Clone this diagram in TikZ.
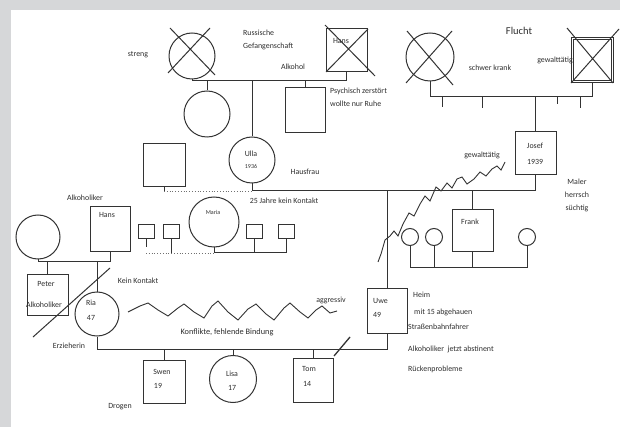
\documentclass[tikz,border=0pt]{standalone}
\usepackage{fontspec}
\setmainfont{Carlito}
\definecolor{lc}{HTML}{333333}
\definecolor{tc}{HTML}{2E2E2E}
\definecolor{bgc}{HTML}{D6D7D9}
\begin{document}
\begin{tikzpicture}[x=1pt,y=-1pt,
 ln/.style={draw=lc,line width=1pt},
 lnd/.style={draw=lc!70,line width=0.8pt,dotted},
 fem/.style={circle,draw=lc,line width=1pt,inner sep=0pt,minimum size=#1},
 male/.style n args={2}{rectangle,draw=lc,line width=1pt,inner sep=0pt,minimum width=#1,minimum height=#2},
 lbl/.style={font=\fontsize{7.9}{8}\selectfont,text=tc,inner sep=0pt},
 lblw/.style={lbl,anchor=west},
 big/.style={font=\fontsize{10.5}{11}\selectfont,text=tc,inner sep=0pt}]
\fill[bgc] (0,0) rectangle (620,427);
\fill[white] (11,10) rectangle (620,427);
\useasboundingbox (0,0) rectangle (620,427);

% ---------- top generation, left ----------
\node[fem=46pt] (ggm) at (192,56) {};
\draw[ln] (170,28) -- (215,75) (210,28) -- (168,73);
\node[male={41pt}{43pt}] (hansA) at (346.5,50.5) {};
\draw[ln] (325,25) -- (375,76) (368,29) -- (326,72);
\node[lbl] (tHansA) at (341,41) {Hans};
\node[lbl] (tstreng) at (138,55) {streng};
\node[lblw] (trus) at (243,33) {Russische};
\node[lblw] (tgef) at (243,46) {Gefangenschaft};
\node[lbl] (talk1) at (293,67) {Alkohol};
\coordinate (j1) at (192,81);
\draw[ln] (ggm.south) -- (j1) -| (hansA.south);

\node[fem=46pt] (d1) at (207,114) {};
\draw[ln] (d1.north) -- (d1.north |- j1);
\node[male={40pt}{45pt}] (psy) at (305,110.5) {};
\draw[ln] (psy.north) -- (psy.north |- j1);
\node[lblw] (tpsy1) at (330,91) {Psychisch zerstört};
\node[lblw] (tpsy2) at (330,104) {wollte nur Ruhe};

% ---------- top generation, right ----------
\node[fem=48pt] (fc) at (430,57) {};
\draw[ln] (407,31) -- (453,85) (452,31) -- (406,83);
\node[rectangle,draw=lc,line width=0.7pt,double,double distance=1.8pt,inner sep=0pt,minimum width=40pt,minimum height=43pt] (fs) at (592.5,60) {};
\draw[ln] (567,28) -- (613,83) (619,29) -- (571,83);
\node[big] (tflucht) at (519,31) {Flucht};
\node[lbl] (tkrank) at (490,68) {schwer krank};
\node[lbl] (tgew1) at (555,60) {gewalttätig};
\coordinate (j4) at (430,97);
\draw[ln] (fc.south) -- (j4) -| (fs.south);
\coordinate (k1) at (442,107);
\coordinate (k2) at (482,108);
\coordinate (k3) at (557,104);
\coordinate (k4) at (580,108);
\draw[ln] (k1) -- (k1 |- j4) (k2) -- (k2 |- j4) (k3) -- (k3 |- j4) (k4) -- (k4 |- j4);

\node[male={41pt}{43pt}] (josef) at (535.5,153.5) {};
\draw[ln] (josef.north) -- (josef.north |- j4);
\node[lbl] (tjos1) at (535,146) {Josef};
\node[lbl] (tjos2) at (535,162) {1939};
\node[lbl] (tmal1) at (577,182) {Maler};
\node[lbl] (tmal2) at (577,195) {herrsch};
\node[lbl] (tmal3) at (577,208) {süchtig};

% ---------- Ulla / Josef ----------
\node[fem=46pt] (ulla) at (252,160) {};
\node[lbl] (tulla1) at (251,154) {Ulla};
\node[lbl,font=\fontsize{6}{7}\selectfont] (tulla2) at (251,166) {1936};
\draw[ln] (ulla.north) -- (ulla.north |- j1);
\coordinate (j2) at (252,191);
\draw[ln] (ulla.south) -- (j2) -| (josef.south);
\node[lbl] (thaus) at (305,172) {Hausfrau};
\node[male={42pt}{43pt}] (sqL) at (164,165.5) {};
\coordinate (j3) at (164,191);
\draw[ln] (sqL.south) -- (j3);
\draw[lnd] (j3) -- (j2);
\node[lbl] (tjahre) at (284,201) {25 Jahre kein Kontakt};

% ---------- children of Ulla / Josef ----------
\node[male={40pt}{45pt}] (uwe) at (387,310.5) {};
\draw[ln] (uwe.north) -- (uwe.north |- j2);
\node[lblw] (tuwe1) at (373,301) {Uwe};
\node[lblw] (tuwe2) at (373,315) {49};
\node[male={41pt}{42pt}] (frank) at (472.5,231) {};
\draw[ln] (frank.north) -- (frank.north |- j2);
\node[lbl] (tfrank) at (470,222) {Frank};
\node[fem=17pt] (c1) at (410,237) {};
\node[fem=17pt] (c2) at (434,237) {};
\node[fem=17pt] (c3) at (527,237) {};
\coordinate (j5) at (410,267);
\draw[ln] (c1.south) -- (j5) -| (c3.south);
\draw[ln] (c2.south) -- (c2.south |- j5) (frank.south) -- (frank.south |- j5);

\draw[ln,line width=0.9pt] (378,262) -- (381,254) -- (385,240) -- (390,236) -- (394,231) -- (398,236) -- (403,224) -- (409,213) -- (414,216) -- (420,204) -- (425,196) -- (430,201) -- (436,187) -- (441,191) -- (447,183) -- (452,188) -- (457,179) -- (462,177) -- (467,184) -- (474,179) -- (480,172) -- (486,176) -- (492,169) -- (497,166) -- (501,170) -- (505,162);
\node[lbl] (tgew2) at (482,155) {gewalttätig};

% ---------- Maria group ----------
\node[fem=50pt] (maria) at (214,222) {};
\node[lbl,font=\fontsize{6}{7}\selectfont] (tmaria) at (213,212) {Maria};
\node[male={16pt}{14pt}] (s1) at (146,232) {};
\node[male={16pt}{14pt}] (s2) at (171,232) {};
\node[male={16pt}{14pt}] (s3) at (254.5,232) {};
\node[male={16pt}{14pt}] (s4) at (286.5,232) {};
\coordinate (j8) at (146,253);
\draw[ln] (s1.south) -- ++(0,8) (s2.south) -- (s2.south |- j8) (s3.south) -- (s3.south |- j8);
\draw[lnd] (j8) -- (maria.south |- j8);
\draw[ln] (maria.south) -- (maria.south |- j8) -| (s4.south);

% ---------- Hans family ----------
\node[fem=44pt] (hw) at (38,237) {};
\node[male={40pt}{45pt}] (hans) at (110,229.5) {};
\node[lbl] (thans) at (107,215) {Hans};
\node[lbl] (talk2) at (85,198) {Alkoholiker};
\coordinate (j6) at (38,262);
\draw[ln] (hw.south) -- (j6) -| (hans.south);
\node[male={41pt}{41pt}] (peter) at (47.5,294.5) {};
\draw[ln] (peter.north) -- (peter.north |- j6);
\node[lbl] (tpeter) at (46,284) {Peter};
\node[lbl] (talk3) at (44,305) {Alkoholiker};
\node[fem=44pt] (ria) at (97,314) {};
\draw[ln] (ria.north) -- (ria.north |- j6);
\node[lbl] (tria1) at (91,303) {Ria};
\node[lbl] (tria2) at (91,318) {47};
\draw[ln] (33,337) -- (110,268);
\node[lbl] (tkein) at (138,281) {Kein Kontakt};
\node[lbl] (terz) at (69,346) {Erzieherin};

% ---------- Ria / Uwe and children ----------
\coordinate (j7) at (97,349);
\draw[ln] (ria.south) -- (j7) -| (uwe.south);
\node[male={42pt}{43pt}] (swen) at (164,381.5) {};
\node[fem=47pt] (lisa) at (233,379) {};
\node[male={40pt}{44pt}] (tom) at (313,380) {};
\draw[ln] (swen.north) -- (swen.north |- j7) (lisa.north) -- (lisa.north |- j7) (tom.north) -- (tom.north |- j7);
\node[lbl] (tswen1) at (162,372) {Swen};
\node[lbl] (tswen2) at (158,386) {19};
\node[lbl] (tlisa1) at (232,374) {Lisa};
\node[lbl] (tlisa2) at (232,388) {17};
\node[lbl] (ttom1) at (309,369) {Tom};
\node[lbl] (ttom2) at (307,384) {14};
\node[lbl] (tdrog) at (120,407) {Drogen};
\draw[ln,line width=1.3pt] (334,356) -- (350,337);

\draw[ln,line width=0.9pt] (128,312) -- (140,306) -- (148,303) -- (158,310) -- (168,316) -- (178,308) -- (184,304) -- (194,312) -- (204,318) -- (212,306) -- (218,301) -- (228,312) -- (238,320) -- (248,309) -- (256,304) -- (266,314) -- (274,320) -- (284,308) -- (290,303) -- (300,312) -- (308,318) -- (316,310) -- (322,306) -- (330,313) -- (337,311);
\node[lbl] (taggr) at (331,300) {aggressiv};
\node[lbl,font=\fontsize{8.3}{9}\selectfont] (tkonf) at (227,332) {Konflikte, fehlende Bindung};

\node[lblw] (theim) at (413,295) {Heim};
\node[lblw] (tmit) at (414,312) {mit 15 abgehauen};
\node[lblw] (tstr) at (408,327) {Straßenbahnfahrer};
\node[lblw] (talk4) at (408,349) {Alkoholiker\ \ jetzt abstinent};
\node[lblw] (true) at (408,369) {Rückenprobleme};
\end{tikzpicture}
\end{document}
